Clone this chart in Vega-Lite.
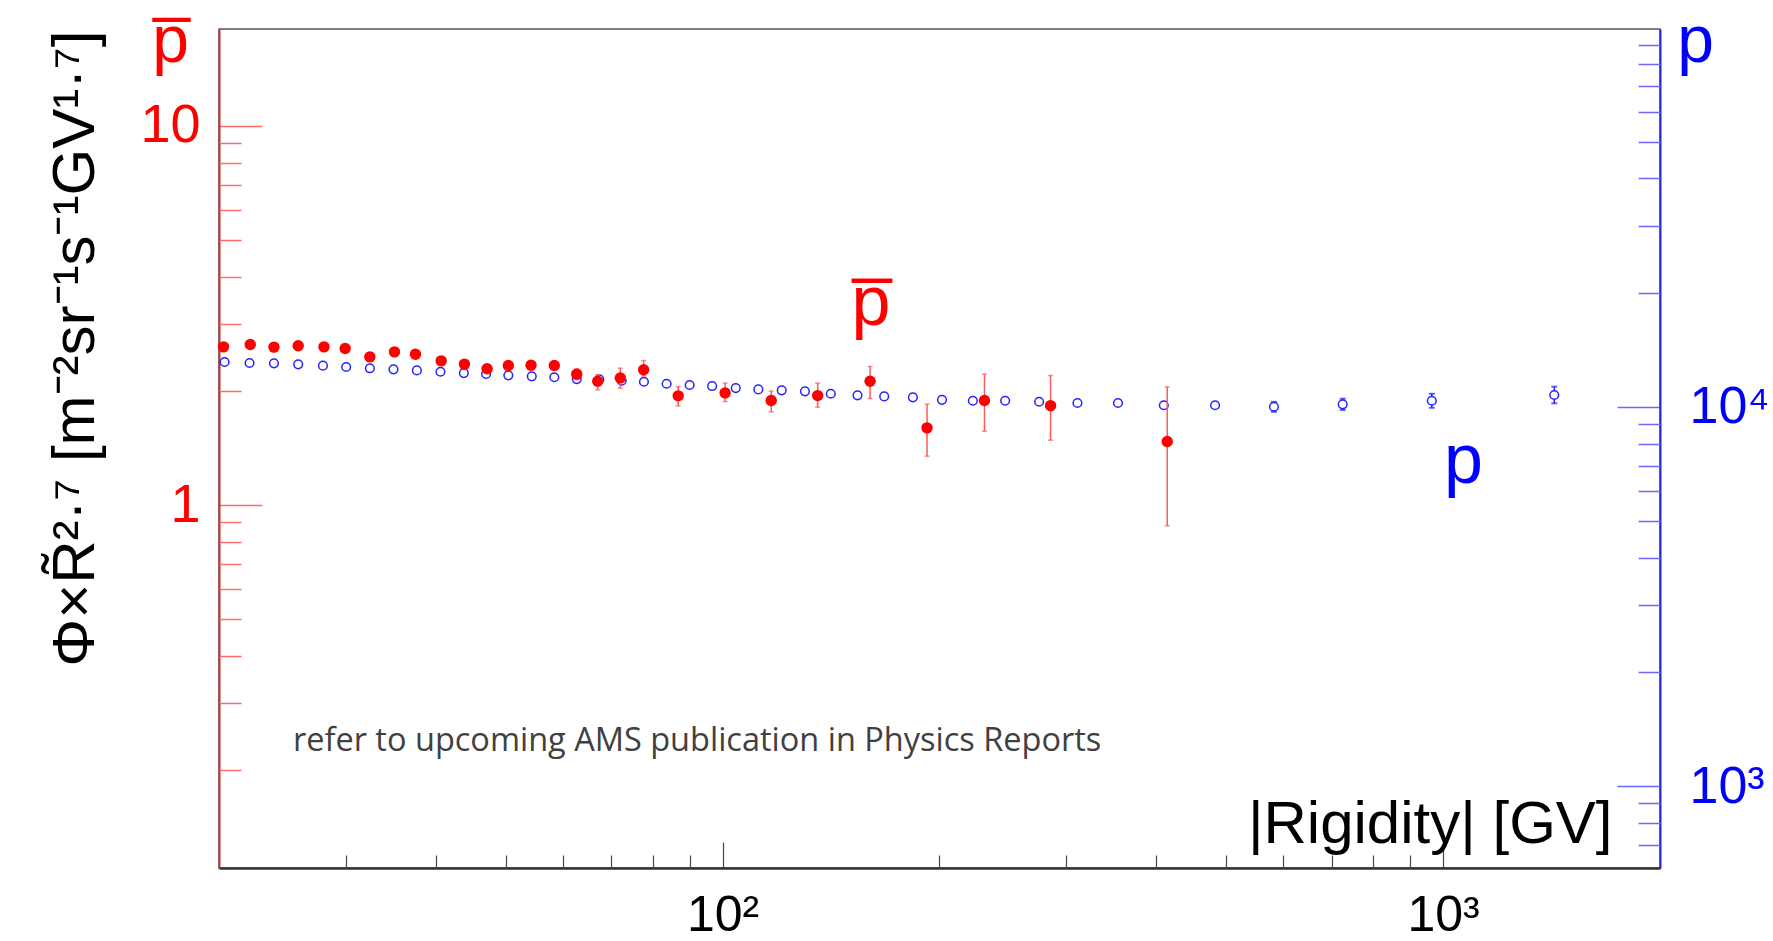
{
  "$schema": "https://vega.github.io/schema/vega-lite/v6.json",
  "autosize": "none",
  "padding": {"left": 219, "top": 29, "right": 113, "bottom": 73},
  "width": 1441,
  "height": 839,
  "background": "white",
  "config": {
    "view": {"stroke": "#555555", "strokeWidth": 1.5},
    "font": "Liberation Sans",
    "axis": {"grid": false, "labelOverlap": false, "labelBound": false, "labelFlush": false}
  },
  "datasets": {
    "pbar": [
      {"R": 20.29, "flux": 2.613, "lo": 2.582, "hi": 2.644},
      {"R": 22.10, "flux": 2.650, "lo": 2.619, "hi": 2.682},
      {"R": 23.84, "flux": 2.609, "lo": 2.578, "hi": 2.640},
      {"R": 25.76, "flux": 2.630, "lo": 2.599, "hi": 2.662},
      {"R": 27.97, "flux": 2.613, "lo": 2.582, "hi": 2.644},
      {"R": 29.93, "flux": 2.586, "lo": 2.555, "hi": 2.617},
      {"R": 32.39, "flux": 2.459, "lo": 2.422, "hi": 2.496},
      {"R": 35.04, "flux": 2.535, "lo": 2.497, "hi": 2.573},
      {"R": 37.47, "flux": 2.499, "lo": 2.462, "hi": 2.536},
      {"R": 40.68, "flux": 2.400, "lo": 2.364, "hi": 2.436},
      {"R": 43.82, "flux": 2.353, "lo": 2.318, "hi": 2.388},
      {"R": 47.11, "flux": 2.287, "lo": 2.230, "hi": 2.344},
      {"R": 50.42, "flux": 2.333, "lo": 2.275, "hi": 2.391},
      {"R": 54.21, "flux": 2.338, "lo": 2.280, "hi": 2.396},
      {"R": 58.40, "flux": 2.333, "lo": 2.275, "hi": 2.391},
      {"R": 62.74, "flux": 2.214, "lo": 2.140, "hi": 2.287},
      {"R": 67.09, "flux": 2.121, "lo": 2.013, "hi": 2.205},
      {"R": 72.11, "flux": 2.164, "lo": 2.034, "hi": 2.296},
      {"R": 77.70, "flux": 2.273, "lo": 2.191, "hi": 2.405},
      {"R": 86.77, "flux": 1.941, "lo": 1.826, "hi": 2.053},
      {"R": 100.8, "flux": 1.976, "lo": 1.875, "hi": 2.097},
      {"R": 116.8, "flux": 1.886, "lo": 1.762, "hi": 1.998},
      {"R": 135.5, "flux": 1.944, "lo": 1.812, "hi": 2.097},
      {"R": 160.2, "flux": 2.121, "lo": 1.910, "hi": 2.319},
      {"R": 192.2, "flux": 1.598, "lo": 1.346, "hi": 1.846},
      {"R": 230.9, "flux": 1.886, "lo": 1.566, "hi": 2.214},
      {"R": 285.2, "flux": 1.829, "lo": 1.483, "hi": 2.195},
      {"R": 414.1, "flux": 1.471, "lo": 0.8825, "hi": 2.050}
    ],
    "p": [
      {"R": 20.36, "flux": 13120, "lo": 13015, "hi": 13225},
      {"R": 22.05, "flux": 13040, "lo": 12936, "hi": 13144},
      {"R": 23.84, "flux": 13015, "lo": 12911, "hi": 13119},
      {"R": 25.76, "flux": 12940, "lo": 12836, "hi": 13044},
      {"R": 27.88, "flux": 12830, "lo": 12727, "hi": 12933},
      {"R": 30.03, "flux": 12730, "lo": 12628, "hi": 12832},
      {"R": 32.39, "flux": 12630, "lo": 12529, "hi": 12731},
      {"R": 34.93, "flux": 12550, "lo": 12450, "hi": 12650},
      {"R": 37.64, "flux": 12470, "lo": 12370, "hi": 12570},
      {"R": 40.59, "flux": 12370, "lo": 12271, "hi": 12469},
      {"R": 43.74, "flux": 12270, "lo": 12172, "hi": 12368},
      {"R": 46.96, "flux": 12200, "lo": 12102, "hi": 12298},
      {"R": 50.42, "flux": 12100, "lo": 12003, "hi": 12197},
      {"R": 54.34, "flux": 12030, "lo": 11934, "hi": 12126},
      {"R": 58.40, "flux": 11960, "lo": 11864, "hi": 12056},
      {"R": 62.74, "flux": 11830, "lo": 11735, "hi": 11925},
      {"R": 67.43, "flux": 11810, "lo": 11716, "hi": 11904},
      {"R": 72.43, "flux": 11710, "lo": 11616, "hi": 11804},
      {"R": 77.77, "flux": 11640, "lo": 11547, "hi": 11733},
      {"R": 83.62, "flux": 11500, "lo": 11408, "hi": 11592},
      {"R": 90.00, "flux": 11410, "lo": 11319, "hi": 11501},
      {"R": 96.7, "flux": 11340, "lo": 11249, "hi": 11431},
      {"R": 104.3, "flux": 11200, "lo": 11110, "hi": 11290},
      {"R": 112.1, "flux": 11110, "lo": 11021, "hi": 11199},
      {"R": 120.8, "flux": 11050, "lo": 10962, "hi": 11138},
      {"R": 130.1, "flux": 10980, "lo": 10892, "hi": 11068},
      {"R": 141.3, "flux": 10820, "lo": 10733, "hi": 10907},
      {"R": 153.9, "flux": 10720, "lo": 10634, "hi": 10806},
      {"R": 167.6, "flux": 10650, "lo": 10565, "hi": 10735},
      {"R": 183.7, "flux": 10590, "lo": 10505, "hi": 10675},
      {"R": 201.6, "flux": 10430, "lo": 10347, "hi": 10513},
      {"R": 222.5, "flux": 10370, "lo": 10287, "hi": 10453},
      {"R": 246.7, "flux": 10370, "lo": 10287, "hi": 10453},
      {"R": 275.0, "flux": 10310, "lo": 10228, "hi": 10392},
      {"R": 310.8, "flux": 10230, "lo": 10128, "hi": 10332},
      {"R": 353.8, "flux": 10230, "lo": 10128, "hi": 10332},
      {"R": 409.6, "flux": 10090, "lo": 9940, "hi": 10240},
      {"R": 482.5, "flux": 10090, "lo": 9940, "hi": 10240},
      {"R": 582.4, "flux": 10000, "lo": 9700, "hi": 10300},
      {"R": 725.5, "flux": 10150, "lo": 9810, "hi": 10500},
      {"R": 964.5, "flux": 10370, "lo": 9940, "hi": 10820},
      {"R": 1426.6, "flux": 10740, "lo": 10210, "hi": 11300}
    ]
  },
  "resolve": {
    "scale": {"y": "independent"},
    "axis": {"x": "independent", "y": "independent"}
  },
  "layer": [
    {
      "data": {"name": "p"},
      "mark": {"type": "rule", "color": "#2020ff", "strokeWidth": 1.5},
      "encoding": {
        "x": {"field": "R", "type": "quantitative",
          "scale": {"type": "log", "domain": [20, 2000], "nice": false},
          "axis": {
            "orient": "bottom", "values": [100, 1000], "tickSize": -26,
            "tickColor": "#444444", "tickWidth": 1.2, "domainColor": "#333333", "domainWidth": 2.5,
            "labelColor": "black", "labelFont": "Liberation Sans", "labelFontSize": 50, "labelPadding": 48,
            "labelExpr": "datum.value == 100 ? '10²' : '10³'",
            "title": "|Rigidity| [GV]", "titleFont": "Liberation Sans", "titleFontSize": 60,
            "titleFontWeight": "normal", "titleColor": "black", "titleAlign": "right",
            "titleBaseline": "alphabetic", "titleX": 1393, "titleY": -26, "titleAngle": 0
          }},
        "y": {"field": "lo", "type": "quantitative",
          "scale": {"type": "log", "domain": [608.3, 99040], "nice": false},
          "axis": {
            "orient": "right", "values": [1000, 10000], "tickSize": -43,
            "tickColor": "#6a6aff", "tickWidth": 1.5, "domainColor": "#2a2ad0", "domainWidth": 2,
            "labelColor": "#0000ff", "labelFont": "Liberation Sans", "labelFontSize": 52, "labelPadding": 72,
            "labelExpr": "datum.value == 1000 ? '10³' : '10⁴'",
            "title": "p", "titleFont": "Liberation Sans", "titleFontSize": 66, "titleFontWeight": "normal",
            "titleColor": "#0000ff", "titleAngle": 0, "titleAlign": "center", "titleBaseline": "alphabetic",
            "titleX": 35, "titleY": 32
          }},
        "y2": {"field": "hi"}
      }
    },
    {
      "data": {"name": "p"},
      "transform": [{"fold": ["lo", "hi"], "as": ["end", "v"]}],
      "mark": {"type": "tick", "orient": "horizontal", "color": "#2020ff", "size": 6, "thickness": 2},
      "encoding": {
        "x": {"field": "R", "type": "quantitative",
          "scale": {"type": "log", "domain": [20, 2000], "nice": false}, "axis": null},
        "y": {"field": "v", "type": "quantitative",
          "scale": {"type": "log", "domain": [608.3, 99040], "nice": false}, "axis": null}
      }
    },
    {
      "data": {"name": "p"},
      "mark": {"type": "point", "shape": "circle", "filled": true, "size": 75, "stroke": "#2424ff", "strokeWidth": 1.5, "fill": "white", "fillOpacity": 1, "opacity": 1},
      "encoding": {
        "x": {"field": "R", "type": "quantitative",
          "scale": {"type": "log", "domain": [20, 2000], "nice": false},
          "axis": {"orient": "bottom", "values": [30, 40, 50, 60, 70, 80, 90, 200, 300, 400, 500, 600, 700, 800, 900],
            "tickSize": -13, "tickColor": "#444444", "tickWidth": 1.2, "labels": false, "domain": false, "title": null}},
        "y": {"field": "flux", "type": "quantitative",
          "scale": {"type": "log", "domain": [608.3, 99040], "nice": false},
          "axis": {"orient": "right", "values": [700, 800, 900, 2000, 3000, 4000, 5000, 6000, 7000, 8000, 9000, 20000, 30000, 40000, 50000, 60000, 70000, 80000, 90000],
            "tickSize": -22, "tickColor": "#6a6aff", "tickWidth": 1.5, "labels": false, "domain": false, "title": null}}
      }
    },
    {
      "data": {"name": "pbar"},
      "mark": {"type": "rule", "color": "#ff5a5a", "strokeWidth": 1.5},
      "encoding": {
        "x": {"field": "R", "type": "quantitative",
          "scale": {"type": "log", "domain": [20, 2000], "nice": false}, "axis": null},
        "y": {"field": "lo", "type": "quantitative",
          "scale": {"type": "log", "domain": [0.1105, 17.99], "nice": false},
          "axis": {
            "orient": "left", "values": [1, 10], "tickSize": -43,
            "tickColor": "#ff6a6a", "tickWidth": 1.5, "domainColor": "#c83232", "domainWidth": 2,
            "labelColor": "#ff0000", "labelFont": "Liberation Sans", "labelFontSize": 54, "labelPadding": 62,
            "labelExpr": "datum.value == 10 ? '10' : '1'",
            "title": "Φ×R̃²·⁷ [m⁻²sr⁻¹s⁻¹GV¹·⁷]", "titleFont": "Liberation Sans", "titleFontSize": 60,
            "titleFontWeight": "normal", "titleColor": "black", "titleAngle": -90, "titleAlign": "right",
            "titleBaseline": "alphabetic", "titleX": -126, "titleY": 1
          }},
        "y2": {"field": "hi"}
      }
    },
    {
      "data": {"name": "pbar"},
      "transform": [{"fold": ["lo", "hi"], "as": ["end", "v"]}],
      "mark": {"type": "tick", "orient": "horizontal", "color": "#ff5a5a", "size": 5, "thickness": 1.5},
      "encoding": {
        "x": {"field": "R", "type": "quantitative",
          "scale": {"type": "log", "domain": [20, 2000], "nice": false}, "axis": null},
        "y": {"field": "v", "type": "quantitative",
          "scale": {"type": "log", "domain": [0.1105, 17.99], "nice": false}, "axis": null}
      }
    },
    {
      "data": {"name": "pbar"},
      "mark": {"type": "circle", "size": 130, "color": "#ff0000", "opacity": 1},
      "encoding": {
        "x": {"field": "R", "type": "quantitative",
          "scale": {"type": "log", "domain": [20, 2000], "nice": false}, "axis": null},
        "y": {"field": "flux", "type": "quantitative",
          "scale": {"type": "log", "domain": [0.1105, 17.99], "nice": false},
          "axis": {"orient": "left", "values": [0.2, 0.3, 0.4, 0.5, 0.6, 0.7, 0.8, 0.9, 2, 3, 4, 5, 6, 7, 8, 9],
            "tickSize": -22, "tickColor": "#ff6a6a", "tickWidth": 1.5, "labels": false, "domain": false,
            "title": "p̅", "titleFont": "Liberation Sans", "titleFontSize": 66, "titleFontWeight": "normal",
            "titleColor": "#ff0000", "titleAngle": 0, "titleAlign": "center", "titleBaseline": "alphabetic",
            "titleX": -49, "titleY": 32}}
      }
    },
    {
      "data": {"values": [{"R": 160.6, "v": 2.987, "label": "p̅"}]},
      "mark": {"type": "text", "font": "Liberation Sans", "fontSize": 70, "color": "#ff0000", "align": "center", "baseline": "alphabetic"},
      "encoding": {
        "x": {"field": "R", "type": "quantitative",
          "scale": {"type": "log", "domain": [20, 2000], "nice": false}, "axis": null},
        "y": {"field": "v", "type": "quantitative",
          "scale": {"type": "log", "domain": [0.1105, 17.99], "nice": false}, "axis": null},
        "text": {"field": "label"}
      }
    },
    {
      "data": {"values": [{"R": 1067, "v": 1.144, "label": "p"}]},
      "mark": {"type": "text", "font": "Liberation Sans", "fontSize": 70, "color": "#0000ff", "align": "center", "baseline": "alphabetic"},
      "encoding": {
        "x": {"field": "R", "type": "quantitative",
          "scale": {"type": "log", "domain": [20, 2000], "nice": false}, "axis": null},
        "y": {"field": "v", "type": "quantitative",
          "scale": {"type": "log", "domain": [0.1105, 17.99], "nice": false}, "axis": null},
        "text": {"field": "label"}
      }
    },
    {
      "data": {"values": [{"R": 25.33, "v": 0.2247, "label": "refer to upcoming AMS publication in Physics Reports"}]},
      "mark": {"type": "text", "font": "Open Sans", "fontSize": 32.5, "color": "#404040", "align": "left", "baseline": "alphabetic"},
      "encoding": {
        "x": {"field": "R", "type": "quantitative",
          "scale": {"type": "log", "domain": [20, 2000], "nice": false}, "axis": null},
        "y": {"field": "v", "type": "quantitative",
          "scale": {"type": "log", "domain": [0.1105, 17.99], "nice": false}, "axis": null},
        "text": {"field": "label"}
      }
    }
  ]
}
